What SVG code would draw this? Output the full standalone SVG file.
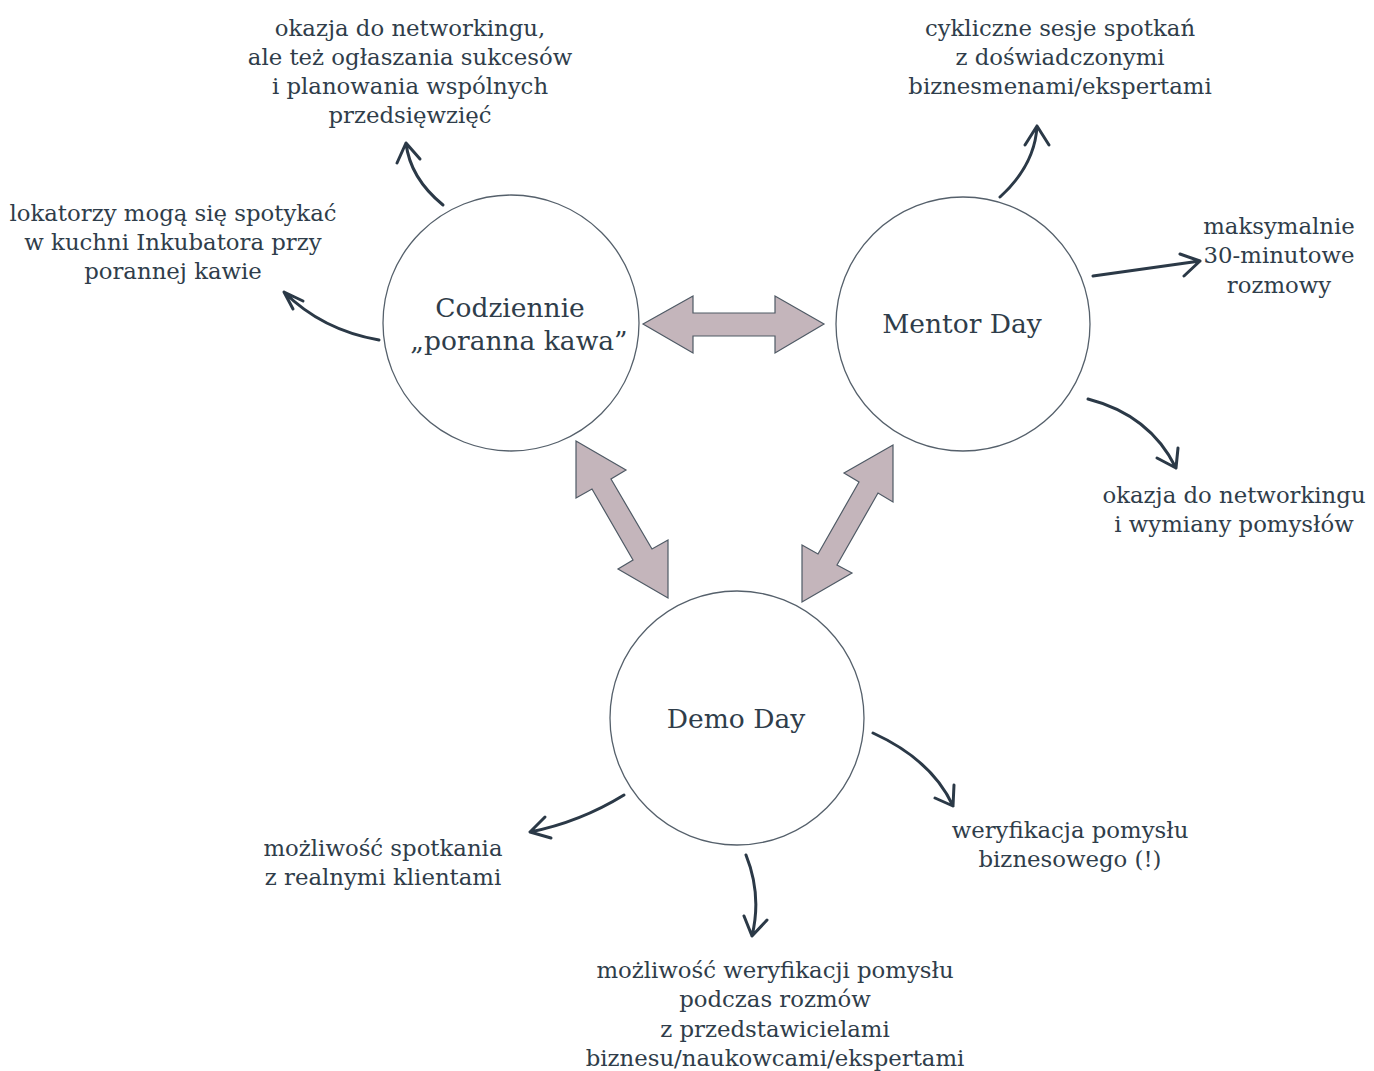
<svg xmlns="http://www.w3.org/2000/svg" width="1374" height="1071" viewBox="0 0 1374 1071">
<style>
text{font-family:"DejaVu Serif","Liberation Serif",serif;fill:#2f3d4a;text-anchor:middle}
.t{font-size:22.8px}
.n{font-size:26.5px}
.c{fill:#fff;stroke:#55606b;stroke-width:1.3}
.da{fill:#c4b5bb;stroke:#4f5a65;stroke-width:1.2;stroke-linejoin:miter}
.cu{fill:none;stroke:#2b3947;stroke-width:3;stroke-linecap:round;stroke-linejoin:round}
</style>
<rect width="1374" height="1071" fill="#fff"/>
<g id="node-kawa"><circle class="c" cx="511" cy="323" r="128"/><text class="n" x="510" y="317">Codziennie</text><text class="n" x="519" y="350">„poranna kawa”</text></g>
<g id="node-mentor"><circle class="c" cx="963" cy="324" r="127"/><text class="n" x="962" y="333">Mentor Day</text></g>
<g id="node-demo"><circle class="c" cx="737" cy="718" r="127"/><text class="n" x="736" y="728">Demo Day</text></g>
<g id="connectors">
<polygon class="da" points="643,324 693,296 693,313 775,313 775,296 824,324 775,353 775,336 693,336 693,353"/>
<polygon class="da" points="576,441 626,470 611,479 652,549 668,540 668,598 618,569 633,560 592,489 576,498"/>
<polygon class="da" points="893,445 893,502 878,493 837,565 852,573 802,602 802,545 818,554 859,482 844,473"/>
<path class="cu" d="M443,205 Q410,178 406,143 M397,163 L406,143 L420,159"/>
<path class="cu" d="M379,340 Q322,330 284,292 M293,309 L284,292 L303,301"/>
<path class="cu" d="M1000,197 Q1035,165 1037,126 M1025,145 L1037,126 L1049,145"/>
<path class="cu" d="M1093,276 L1200,261 M1180,254 L1200,261 L1184,276"/>
<path class="cu" d="M1088,399 Q1150,415 1176,468 M1157,458 L1176,468 L1178,448"/>
<path class="cu" d="M624,795 Q580,822 530,832 M545,817 L530,832 L551,838"/>
<path class="cu" d="M746,855 Q762,895 752,936 M744,916 L752,936 L767,920"/>
<path class="cu" d="M873,733 Q932,760 953,806 M935,798 L953,806 L954,785"/>
</g>
<g id="labels">
<text class="t" x="410" y="36">okazja do networkingu,</text>
<text class="t" x="410" y="65">ale też ogłaszania sukcesów</text>
<text class="t" x="410" y="94">i planowania wspólnych</text>
<text class="t" x="410" y="123">przedsięwzięć</text>
<text class="t" x="173" y="221">lokatorzy mogą się spotykać</text>
<text class="t" x="173" y="250">w kuchni Inkubatora przy</text>
<text class="t" x="173" y="279">porannej kawie</text>
<text class="t" x="1060" y="36">cykliczne sesje spotkań</text>
<text class="t" x="1060" y="65">z doświadczonymi</text>
<text class="t" x="1060" y="94">biznesmenami/ekspertami</text>
<text class="t" x="1279" y="234">maksymalnie</text>
<text class="t" x="1279" y="263">30-minutowe</text>
<text class="t" x="1279" y="293">rozmowy</text>
<text class="t" x="1234" y="503">okazja do networkingu</text>
<text class="t" x="1234" y="532">i wymiany pomysłów</text>
<text class="t" x="1070" y="838">weryfikacja pomysłu</text>
<text class="t" x="1070" y="867">biznesowego (!)</text>
<text class="t" x="383" y="856">możliwość spotkania</text>
<text class="t" x="383" y="885">z realnymi klientami</text>
<text class="t" x="775" y="978">możliwość weryfikacji pomysłu</text>
<text class="t" x="775" y="1007">podczas rozmów</text>
<text class="t" x="775" y="1037">z przedstawicielami</text>
<text class="t" x="775" y="1066">biznesu/naukowcami/ekspertami</text>
</g>
</svg>
